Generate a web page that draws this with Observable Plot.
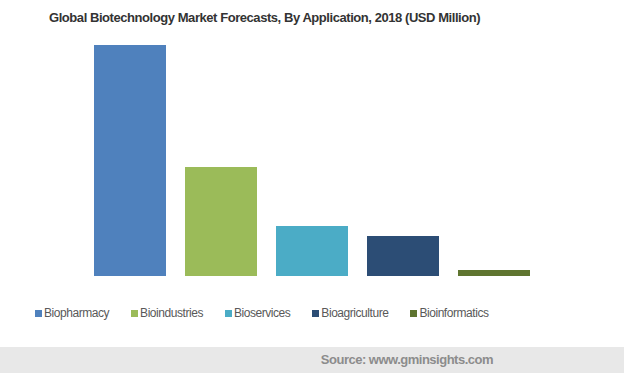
<!DOCTYPE html>
<html><head><meta charset="utf-8">
<script src="https://cdn.jsdelivr.net/npm/d3@7"></script>
<script src="https://cdn.jsdelivr.net/npm/@observablehq/plot@0.6"></script>
<style>
body{margin:0;width:624px;height:373px;background:#fff;font-family:"Liberation Sans",Arial,sans-serif;position:relative;overflow:hidden}
#title{height:34px;line-height:35px;font-weight:bold;font-size:13px;letter-spacing:-0.44px;color:#333;padding-left:49px;white-space:nowrap}
#chart{height:256px}
#legend{display:flex;gap:22px;padding-left:35px;height:46px;align-items:center;font-size:12px;letter-spacing:-0.45px;color:#595959;box-sizing:border-box}
.item{display:flex;align-items:center;white-space:nowrap}
.sw{width:7px;height:7px;margin-right:2px}
#footer{position:absolute;left:0;top:347px;width:624px;height:26px;background:#e8e8e8}
#footer span{position:absolute;right:131px;top:5px;font-weight:bold;font-size:13px;letter-spacing:-0.5px;color:#8c8c8c}
</style></head>
<body>
<div id="title">Global Biotechnology Market Forecasts, By Application, 2018 (USD Million)</div>
<div id="chart"></div>
<div id="legend"></div>
<div id="footer"><span>Source: www.gminsights.com</span></div>
<script>
const categories = ["Biopharmacy","Bioindustries","Bioservices","Bioagriculture","Bioinformatics"];
const values = [231000, 109000, 50000, 40000, 6000];
const colors = ["#4f81bd","#9bbb59","#4bacc6","#2c4d75","#5f7530"];

const data = categories.map((c,i)=>({category:c, value:values[i]}));
const plot = Plot.plot({
  width:624, height:256,
  marginLeft:83, marginRight:83, marginTop:11, marginBottom:14,
  x:{domain:categories, paddingInner:0.213, paddingOuter:0.1065, axis:null},
  y:{domain:[0, d3.max(values)], axis:null},
  color:{domain:categories, range:colors},
  marks:[
    Plot.barY(data,{x:"category", y:"value", fill:"category"})
  ]
});
document.getElementById("chart").appendChild(plot);

const lg = document.getElementById("legend");
categories.forEach((c,i)=>{
  const it = document.createElement("div"); it.className="item";
  const sw = document.createElement("div"); sw.className="sw"; sw.style.background=colors[i];
  const t = document.createElement("span"); t.textContent=c;
  it.appendChild(sw); it.appendChild(t); lg.appendChild(it);
});
</script>
</body></html>
